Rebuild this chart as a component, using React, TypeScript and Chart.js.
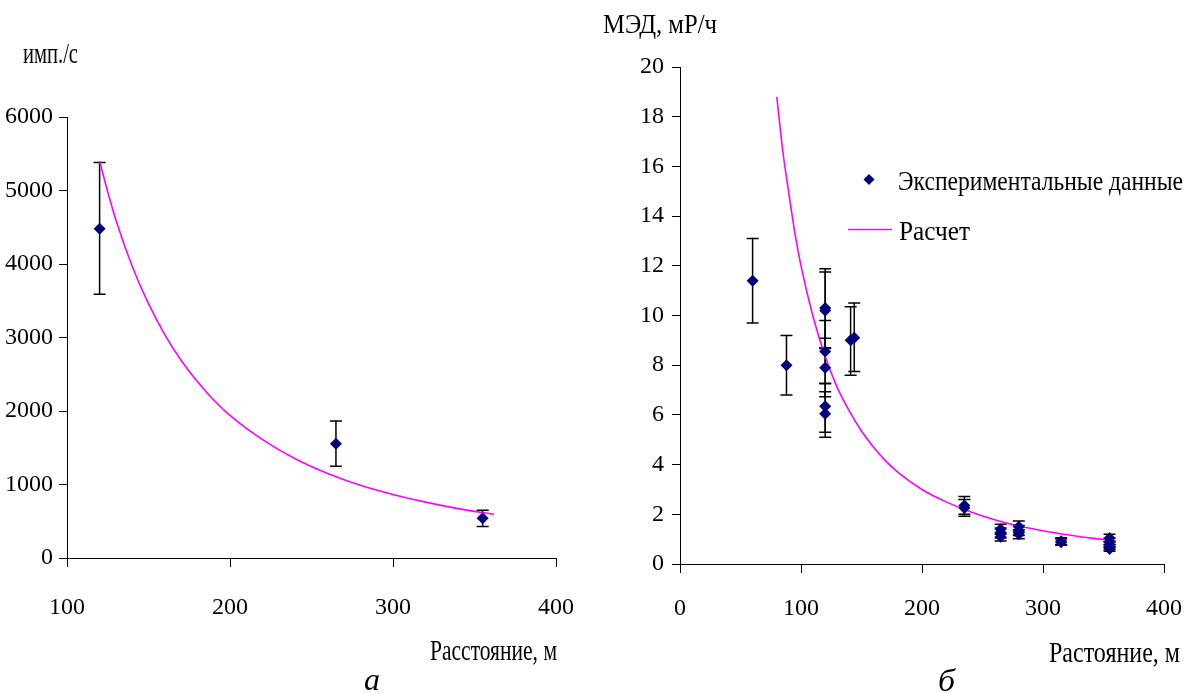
import React, { useEffect, useRef } from 'react';
import { Chart, registerables } from 'chart.js';

Chart.register(...registerables);

const SERIF = '"Liberation Serif", "Times New Roman", serif';
const NAVY = '#000080';
const MAGENTA = '#FF00FF';

// ---------- Chart "а" (count rate vs distance) ----------
const aXTicks = [100, 200, 300, 400];
const aYTicks = [0, 1000, 2000, 3000, 4000, 5000, 6000];
const aExpDistance = [120, 265, 355];
const aExpRate = [4480, 1555, 540];
const aExpLow = [3590, 1250, 430];
const aExpHigh = [5380, 1865, 650];
const aCalcDistance = [120, 125, 130, 140, 150, 160, 170, 180, 190, 200, 220, 240, 260, 280, 300, 320, 340, 362];
const aCalcRate = [5400, 4980, 4600, 3970, 3460, 3040, 2690, 2400, 2150, 1940, 1610, 1350, 1150, 990, 865, 760, 672, 595];

// ---------- Chart "б" (dose rate vs distance) ----------
const bXTicks = [0, 100, 200, 300, 400];
const bYTicks = [0, 2, 4, 6, 8, 10, 12, 14, 16, 18, 20];
const bExpDistance = [60, 88, 120, 120, 120, 120, 120, 120, 141, 144, 235, 235, 265, 265, 265, 280, 280, 280, 315, 315, 355, 355, 355, 355, 355];
const bExpDose = [11.4, 8.0, 10.3, 10.2, 8.55, 7.9, 6.35, 6.05, 9.0, 9.1, 2.35, 2.25, 1.4, 1.25, 1.1, 1.5, 1.35, 1.2, 0.92, 0.88, 1.05, 0.9, 0.78, 0.68, 0.6];
const bExpLow = [9.7, 6.8, 8.7, 8.67, 7.27, 6.73, 5.3, 5.1, 7.6, 7.75, 2.0, 1.92, 1.2, 1.05, 0.93, 1.28, 1.15, 1.02, 0.78, 0.75, 0.9, 0.77, 0.66, 0.58, 0.51];
const bExpHigh = [13.1, 9.2, 11.88, 11.75, 9.8, 9.08, 7.25, 6.93, 10.35, 10.5, 2.72, 2.6, 1.6, 1.45, 1.27, 1.73, 1.55, 1.38, 1.06, 1.01, 1.2, 1.04, 0.9, 0.78, 0.69];
const bCalcDistance = [80, 85, 90, 95, 100, 110, 120, 130, 140, 150, 160, 170, 180, 200, 220, 240, 260, 280, 300, 320, 340, 360];
const bCalcDose = [18.8, 16.6, 14.9, 13.3, 12.0, 9.95, 8.35, 7.1, 6.15, 5.35, 4.7, 4.15, 3.7, 3.0, 2.5, 2.1, 1.78, 1.53, 1.34, 1.18, 1.04, 0.93];

const legendLabels = ['Экспериментальные данные', 'Расчет'];

type Txt = { text: string; x: number; y: number; w?: number; size: number; italic?: boolean };

function drawFitText(ctx: CanvasRenderingContext2D, t: Txt) {
  ctx.save();
  ctx.font = `${t.italic ? 'italic ' : ''}${t.size}px ${SERIF}`;
  ctx.fillStyle = '#000';
  ctx.textBaseline = 'alphabetic';
  ctx.textAlign = 'left';
  const nat = ctx.measureText(t.text).width;
  const sx = t.w ? t.w / nat : 1;
  ctx.translate(t.x, t.y);
  ctx.scale(sx, 1);
  ctx.fillText(t.text, 0, 0);
  ctx.restore();
}

const makeTextPlugin = (items: Txt[]) => ({
  id: 'freeTexts',
  afterDraw(chart: any) {
    items.forEach((t) => drawFitText(chart.ctx, t));
  },
});

const makeErrorBars = (low: number[], high: number[], cap: number) => ({
  id: 'errBars',
  beforeDatasetsDraw(chart: any) {
    const ctx = chart.ctx as CanvasRenderingContext2D;
    const xs = chart.scales.x;
    const ys = chart.scales.y;
    const data = chart.data.datasets[0].data as { x: number; y: number }[];
    ctx.save();
    ctx.strokeStyle = '#000';
    ctx.lineWidth = 1.5;
    data.forEach((p, i) => {
      const px = xs.getPixelForValue(p.x);
      const pl = ys.getPixelForValue(low[i]);
      const ph = ys.getPixelForValue(high[i]);
      ctx.beginPath();
      ctx.moveTo(px, pl);
      ctx.lineTo(px, ph);
      ctx.moveTo(px - cap, pl);
      ctx.lineTo(px + cap, pl);
      ctx.moveTo(px - cap, ph);
      ctx.lineTo(px + cap, ph);
      ctx.stroke();
    });
    ctx.restore();
  },
});

const makeLegend = (dx: number, dy: number, lx0: number, lx1: number, ly: number) => ({
  id: 'customLegend',
  afterDraw(chart: any) {
    const ctx = chart.ctx as CanvasRenderingContext2D;
    ctx.save();
    ctx.fillStyle = NAVY;
    const r = 5.5;
    ctx.beginPath();
    ctx.moveTo(dx, dy - r);
    ctx.lineTo(dx + r, dy);
    ctx.lineTo(dx, dy + r);
    ctx.lineTo(dx - r, dy);
    ctx.closePath();
    ctx.fill();
    ctx.strokeStyle = MAGENTA;
    ctx.lineWidth = 1.5;
    ctx.beginPath();
    ctx.moveTo(lx0, ly);
    ctx.lineTo(lx1, ly);
    ctx.stroke();
    ctx.restore();
  },
});

function axis(ticks: number[], opts: { size: number; tickLen: number; pad: number; fit: (s: any) => void }) {
  return {
    type: 'linear' as const,
    min: ticks[0],
    max: ticks[ticks.length - 1],
    afterFit: opts.fit,
    ticks: {
      stepSize: ticks[1] - ticks[0],
      color: '#000',
      font: { family: SERIF, size: opts.size },
      padding: opts.pad,
      autoSkip: false,
      maxRotation: 0,
      callback: (v: any) => String(v),
    },
    grid: { drawOnChartArea: false, drawTicks: true, tickLength: opts.tickLen, color: '#000', lineWidth: 1 },
    border: { display: true, color: '#000', width: 1 },
  };
}

function buildConfig(p: {
  expX: number[]; expY: number[]; low: number[]; high: number[];
  calcX: number[]; calcY: number[];
  xTicks: number[]; yTicks: number[];
  yAxisW: number; xAxisH: number; padTop: number; padRight: number;
  xPad: number; yPad: number;
  texts: Txt[]; extra: any[];
}) {
  return {
    type: 'scatter' as const,
    data: {
      datasets: [
        {
          label: legendLabels[0],
          data: p.expX.map((x, i) => ({ x, y: p.expY[i] })),
          pointStyle: 'rectRot',
          pointRadius: 6,
          pointHoverRadius: 6,
          backgroundColor: NAVY,
          borderColor: NAVY,
          borderWidth: 0,
          showLine: false,
        },
        {
          label: legendLabels[1],
          data: p.calcX.map((x, i) => ({ x, y: p.calcY[i] })),
          showLine: true,
          pointRadius: 0,
          borderColor: MAGENTA,
          backgroundColor: MAGENTA,
          borderWidth: 1.6,
          cubicInterpolationMode: 'monotone',
          fill: false,
        },
      ],
    },
    options: {
      animation: false,
      responsive: false,
      devicePixelRatio: 1,
      events: [],
      layout: { padding: { top: p.padTop, right: p.padRight, left: 0, bottom: 0 } },
      plugins: { legend: { display: false }, tooltip: { enabled: false }, title: { display: false } },
      scales: {
        x: axis(p.xTicks, { size: 24, tickLen: 9, pad: p.xPad, fit: (s: any) => { s.height = p.xAxisH; } }),
        y: axis(p.yTicks, { size: 24, tickLen: 8, pad: p.yPad, fit: (s: any) => { s.width = p.yAxisW; } }),
      },
    },
    plugins: [makeErrorBars(p.low, p.high, 6), makeTextPlugin(p.texts), ...p.extra],
  };
}

function ChartCanvas({ make, left, width, height }: { make: () => any; left: number; width: number; height: number }) {
  const ref = useRef<HTMLCanvasElement>(null);
  useEffect(() => {
    const chart = new Chart(ref.current as HTMLCanvasElement, make());
    return () => chart.destroy();
  }, []);
  return (
    <canvas
      ref={ref}
      width={width}
      height={height}
      style={{ position: 'absolute', left, top: 0, width, height }}
    />
  );
}

export default function App() {
  const makeA = () =>
    buildConfig({
      expX: aExpDistance, expY: aExpRate, low: aExpLow, high: aExpHigh,
      calcX: aCalcDistance, calcY: aCalcRate,
      xTicks: aXTicks, yTicks: aYTicks,
      yAxisW: 67, xAxisH: 693 - 558, padTop: 117, padRight: 44,
      xPad: 26, yPad: 6,
      texts: [
        { text: 'имп./с', x: 23, y: 63, w: 55, size: 30 },
        { text: 'Расстояние, м', x: 430, y: 660, w: 127, size: 30 },
        { text: 'а', x: 364, y: 690, w: 16, size: 32, italic: true },
      ],
      extra: [],
    });
  const makeB = () =>
    buildConfig({
      expX: bExpDistance, expY: bExpDose, low: bExpLow, high: bExpHigh,
      calcX: bCalcDistance, calcY: bCalcDose,
      xTicks: bXTicks, yTicks: bYTicks,
      yAxisW: 80, xAxisH: 693 - 564, padTop: 67, padRight: 56,
      xPad: 21, yPad: 8,
      texts: [
        { text: 'МЭД, мР/ч', x: 3, y: 33, w: 114, size: 27 },
        { text: legendLabels[0], x: 298, y: 190, w: 285, size: 27 },
        { text: legendLabels[1], x: 299, y: 240, w: 71, size: 27 },
        { text: 'Растояние, м', x: 449, y: 662, w: 131, size: 30 },
        { text: 'б', x: 338, y: 691, w: 17, size: 32, italic: true },
      ],
      extra: [makeLegend(269, 179.5, 248, 292, 229.5)],
    });
  return (
    <div style={{ position: 'absolute', left: 0, top: 0, width: 1188, height: 693, background: '#fff', overflow: 'hidden' }}>
      <ChartCanvas make={makeA} left={0} width={600} height={693} />
      <ChartCanvas make={makeB} left={600} width={620} height={693} />
    </div>
  );
}
